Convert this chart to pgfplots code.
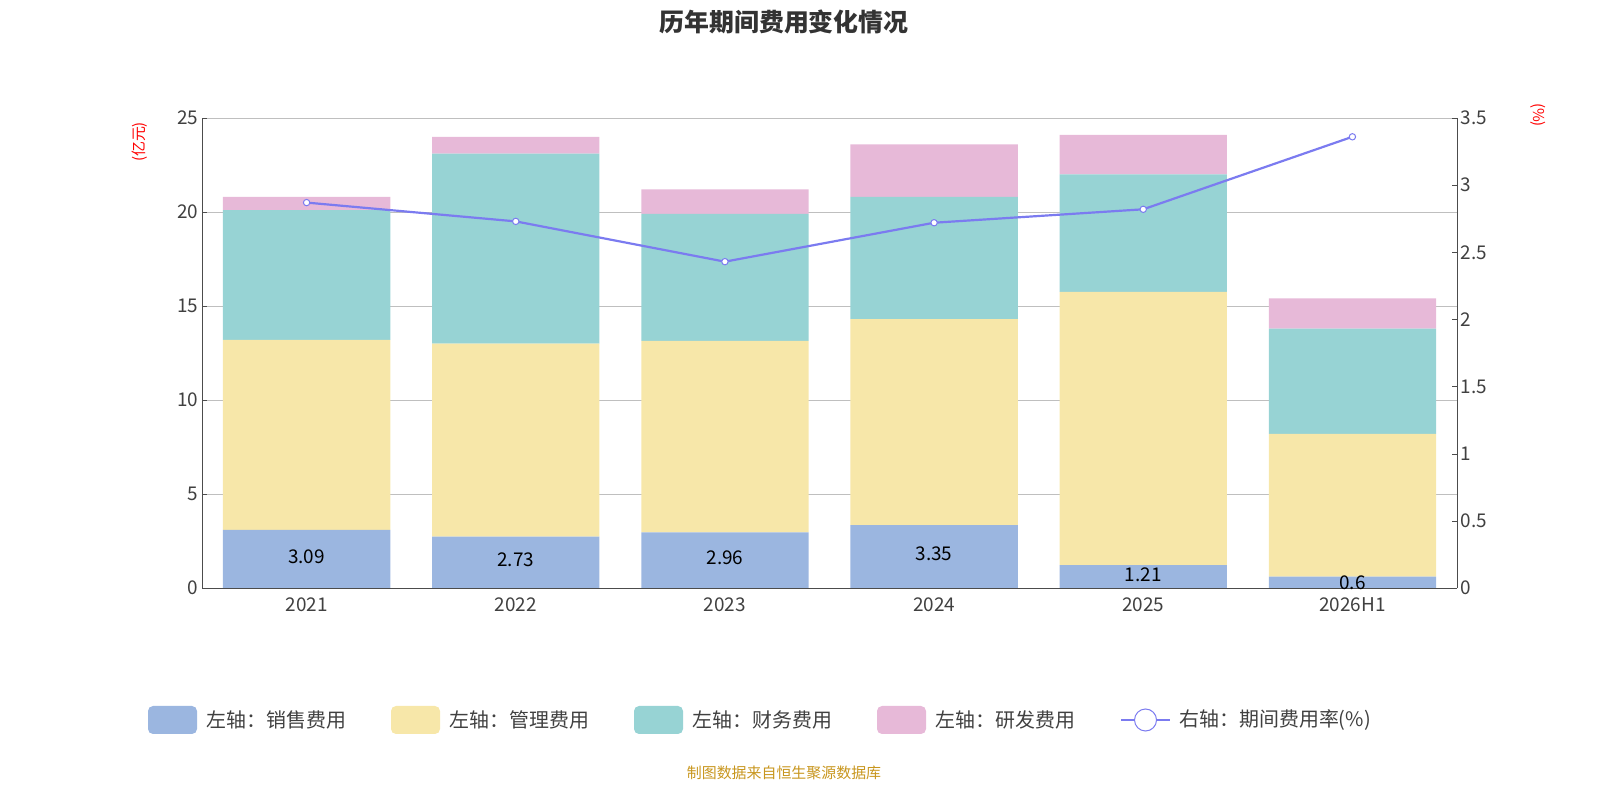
\documentclass[border=0pt]{standalone}
\usepackage{pgfplots}
\pgfplotsset{compat=1.18}
\usepackage{fontspec}
\setmainfont{Noto Sans CJK SC}
\definecolor{cA}{HTML}{9BB6E0}
\definecolor{cB}{HTML}{F7E7A9}
\definecolor{cC}{HTML}{97D3D4}
\definecolor{cD}{HTML}{E7B9D8}
\definecolor{cL}{HTML}{7B7BF0}
\definecolor{gold}{HTML}{C8961E}
\begin{document}
\begin{tikzpicture}[x=1bp,y=1bp]
\pgfplotsset{every axis/.style={at={(202bp,212bp)},anchor=south west,scale only axis,width=1255bp,height=470bp,xmin=-0.5,xmax=5.5,
 /pgf/number format/assume math mode=true, tick label style={font=\fontsize{19}{19}\selectfont,text=black!75}}}
\begin{axis}[ybar stacked, bar width=0.8, ymin=0, ymax=25, ytick={0,5,...,25},
 xtick={0,...,5}, xticklabels={2021,2022,2023,2024,2025,2026H1},
 xticklabel style={yshift=-6bp},
 ymajorgrids, grid style={black!25}, axis x line*=bottom, axis y line*=left,
 axis line style={black!70}, major tick length=5bp, tick style={black!70}]
\addplot[fill=cA,draw=none] coordinates {(0,3.09)(1,2.73)(2,2.96)(3,3.35)(4,1.21)(5,0.6)};
\addplot[fill=cB,draw=none] coordinates {(0,10.11)(1,10.27)(2,10.19)(3,10.95)(4,14.54)(5,7.6)};
\addplot[fill=cC,draw=none] coordinates {(0,6.9)(1,10.1)(2,6.75)(3,6.5)(4,6.25)(5,5.6)};
\addplot[fill=cD,draw=none] coordinates {(0,0.7)(1,0.9)(2,1.3)(3,2.8)(4,2.1)(5,1.6)};
\end{axis}
\begin{axis}[ymin=0, ymax=25, axis lines=none, nodes near coords, point meta=explicit symbolic,
 every node near coord/.style={anchor=center,font=\fontsize{19}{19}\selectfont,text=black}]
\addplot[draw=none, mark=none] table[meta=m] {
x y m
0 1.65 3.09
1 1.5 2.73
2 1.6 2.96
3 1.8 3.35
4 0.7 1.21
5 0.3 0.6
};
\end{axis}
\begin{axis}[ymin=0, ymax=3.5, ytick={0,0.5,...,3.5}, yticklabels={0,0.5,1,1.5,2,2.5,3,3.5}, axis x line=none, axis y line*=right,
 axis line style={black!70}, major tick length=5bp, tick style={black!70}]
\addplot[cL, line width=2.2pt, mark=*, mark size=3.2pt, mark options={fill=white,draw=cL,line width=1pt}]
 coordinates {(0,2.87)(1,2.73)(2,2.43)(3,2.72)(4,2.82)(5,3.36)};
\end{axis}
\node[font=\fontsize{25}{25}\selectfont\bfseries, text=black!80] at (784,778) {历年期间费用变化情况};
\node[rotate=90, text=red, font=\fontsize{15}{15}\selectfont] at (140,658) {(亿元)};
\node[rotate=-90, text=red, font=\fontsize{15}{15}\selectfont] at (1538,685) {(\%)};
\begin{scope}[font=\fontsize{20}{20}\selectfont, text=black!75]
\fill[cA, rounded corners=5bp] (148,66) rectangle (197,94); \node[anchor=west] at (203,80) {左轴：销售费用};
\fill[cB, rounded corners=5bp] (391,66) rectangle (440,94); \node[anchor=west] at (446,80) {左轴：管理费用};
\fill[cC, rounded corners=5bp] (634,66) rectangle (683,94); \node[anchor=west] at (689,80) {左轴：财务费用};
\fill[cD, rounded corners=5bp] (877,66) rectangle (926,94); \node[anchor=west] at (932,80) {左轴：研发费用};
\draw[cL, line width=1.5pt] (1121,80) -- (1170,80);
\draw[cL, fill=white, line width=1pt] (1145.5,80) circle (11bp);
\node[anchor=west] at (1176,80) {右轴：期间费用率(\%)};
\end{scope}
\node[text=gold, font=\fontsize{15}{15}\selectfont] at (784,27) {制图数据来自恒生聚源数据库};
\pgfresetboundingbox
\path[use as bounding box] (0,0) rectangle (1600,800);
\end{tikzpicture}
\end{document}
